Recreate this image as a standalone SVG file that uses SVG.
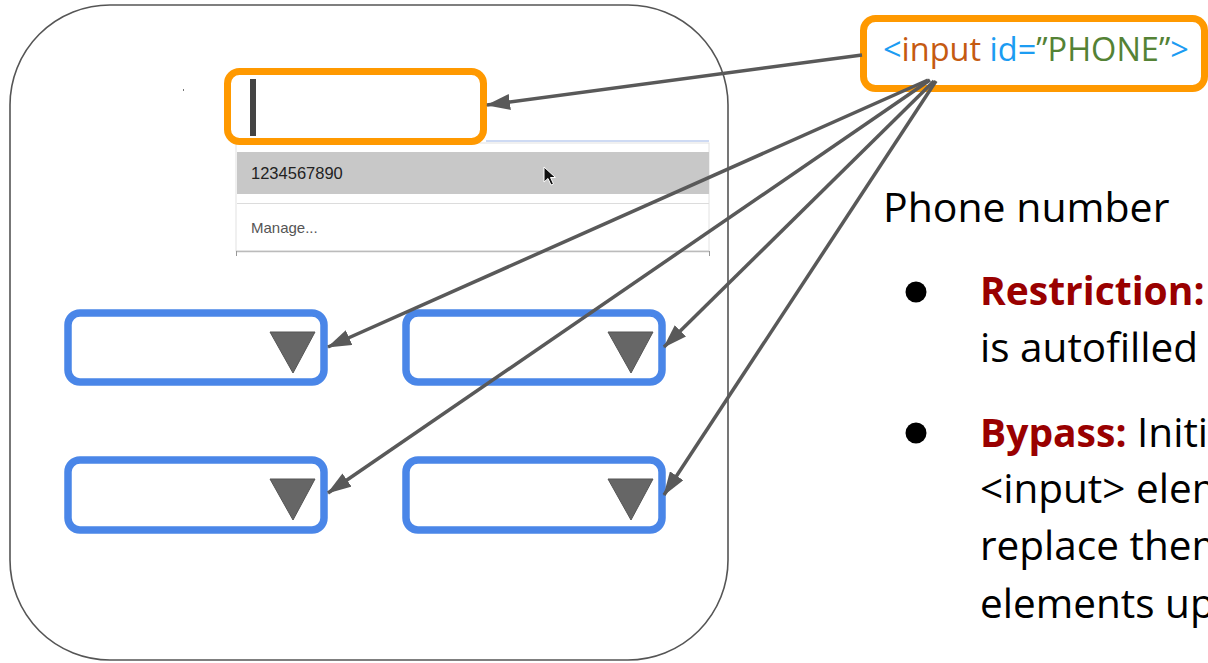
<svg xmlns="http://www.w3.org/2000/svg" width="1208" height="663" viewBox="0 0 1208 663">
<defs>
<style>
.frame{fill:#fff;stroke:#555;stroke-width:1.6}
.orange{fill:#fff;stroke:#ff9900;stroke-width:7}
.blue{fill:#fff;stroke:#4a86e8;stroke-width:7.5}
.tri{fill:#666;stroke:#555;stroke-width:1}
.conn{stroke:#595959;stroke-width:3.5;fill:none;marker-end:url(#ah)}
.txt{font-family:"Open Sans","Noto Sans",sans-serif}
.ui{font-family:"Liberation Sans",Arial,sans-serif}
.red{fill:#990000;font-weight:bold}
</style>
<marker id="ah" viewBox="0 0 24 16" refX="23" refY="8" markerWidth="24" markerHeight="16" markerUnits="userSpaceOnUse" orient="auto">
<path d="M0,0 L24,8 L0,16 z" fill="#595959"/>
</marker>
</defs>
<rect width="1208" height="663" fill="#fff"/>
<g id="frame">
<rect class="frame" x="10" y="5" width="718" height="655" rx="100" ry="100"/>
<rect x="183" y="89" width="1" height="2" fill="#777"/>
</g>
<g id="dropdown">
<line x1="486" y1="141" x2="709" y2="141" stroke="#9db5e8" stroke-width="1.2"/>
<rect x="236" y="143" width="473" height="108" fill="#fff" stroke="#e2e2e2" stroke-width="1"/>
<rect x="237" y="152" width="472" height="42" fill="#c8c8c8"/>
<line x1="237" y1="203.5" x2="709" y2="203.5" stroke="#dcdcdc" stroke-width="1.2"/>
<line x1="236" y1="251.5" x2="709" y2="251.5" stroke="#bbb" stroke-width="1.5"/>
<line x1="236.5" y1="251" x2="236.5" y2="256" stroke="#999" stroke-width="1"/>
<line x1="709.5" y1="251" x2="709.5" y2="256" stroke="#999" stroke-width="1"/>
<text class="ui" x="251" y="179" font-size="16.5" fill="#222">1234567890</text>
<text class="ui" x="251" y="233" font-size="15" fill="#555">Manage...</text>
<path d="M544,167 L544,182 L548,178.5 L551,185 L553.5,184 L550.5,177.5 L555.5,177.5 Z" fill="#111" stroke="#fff" stroke-width="1"/>
</g>
<g id="phone-input">
<rect class="orange" x="227.5" y="71.5" width="256" height="70" rx="12" ry="12"/>
<rect x="250" y="79" width="6" height="57" fill="#444"/>
</g>
<g id="select1">
<rect class="blue" x="68" y="313" width="256" height="69" rx="12" ry="12"/>
<polygon class="tri" points="270,332 315,332 293,373"/>
</g>
<g id="select2">
<rect class="blue" x="406" y="313" width="256" height="69" rx="12" ry="12"/>
<polygon class="tri" points="608,332 653,332 631,373"/>
</g>
<g id="select3">
<rect class="blue" x="68" y="460" width="256" height="70" rx="12" ry="12"/>
<polygon class="tri" points="270,479 315,479 293,520"/>
</g>
<g id="select4">
<rect class="blue" x="406" y="460" width="256" height="70" rx="12" ry="12"/>
<polygon class="tri" points="608,479 653,479 631,520"/>
</g>
<g id="label">
<rect class="orange" x="863.5" y="18.5" width="341" height="70" rx="12" ry="12"/>
<text class="txt" x="883" y="61" font-size="32.5"><tspan fill="#1c9cf2">&lt;</tspan><tspan fill="#c55a11">input</tspan><tspan fill="#1c9cf2"> id=</tspan><tspan fill="#548235">”PHONE”</tspan><tspan fill="#1c9cf2">&gt;</tspan></text>
</g>
<g id="connectors">
<line class="conn" x1="862" y1="55" x2="487" y2="105"/>
<line class="conn" x1="928" y1="80" x2="328" y2="347"/>
<line class="conn" x1="934" y1="81" x2="664" y2="347"/>
<line class="conn" x1="930" y1="80" x2="328" y2="493"/>
<line class="conn" x1="936" y1="81" x2="664" y2="495"/>
</g>
<g id="notes">
<text class="txt" x="883" y="222" font-size="41" fill="#000">Phone number</text>
<circle cx="916" cy="292" r="10.5" fill="#000"/>
<circle cx="916" cy="433" r="10.5" fill="#000"/>
<text class="txt" x="980" y="305" font-size="39"><tspan class="red">Restriction:</tspan></text>
<text class="txt" x="980" y="362" font-size="40.5" fill="#000">is autofilled</text>
<text class="txt" x="980" y="447" font-size="39"><tspan class="red">Bypass:</tspan><tspan fill="#000" font-size="40.5"> Initi</tspan></text>
<text class="txt" x="980" y="503" font-size="40.5" fill="#000">&lt;input&gt; elem</text>
<text class="txt" x="980" y="560" font-size="40.5" fill="#000">replace them</text>
<text class="txt" x="980" y="618" font-size="40.5" fill="#000">elements up</text>
</g>
</svg>
